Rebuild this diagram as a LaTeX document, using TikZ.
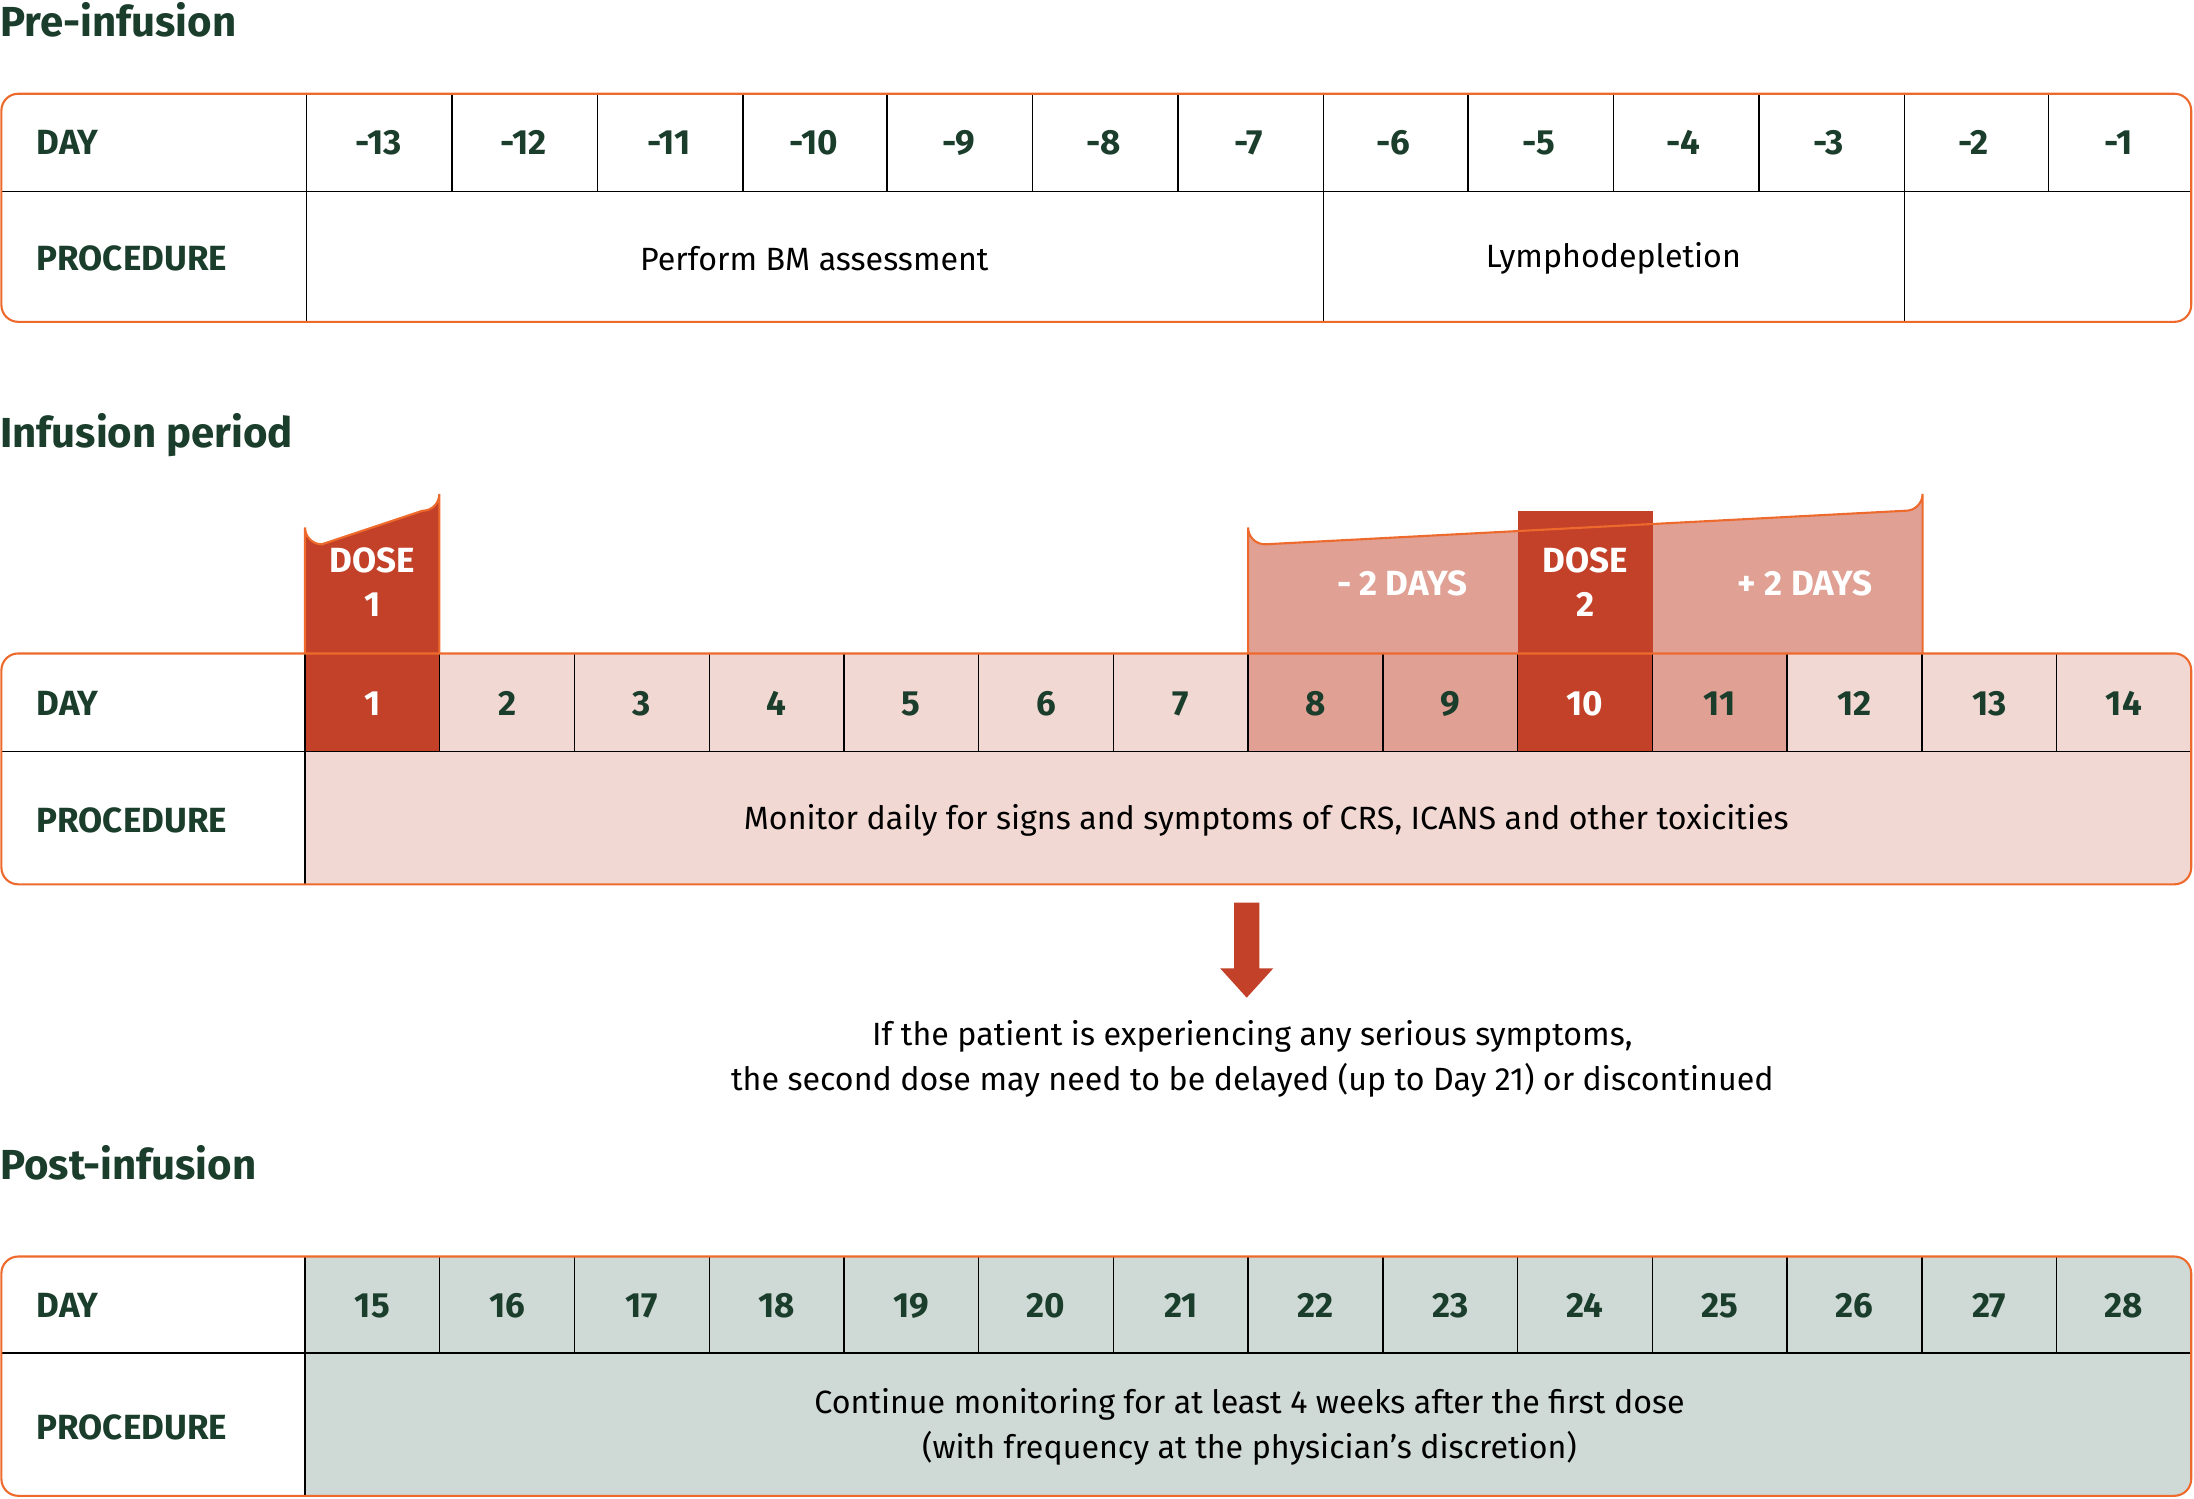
\documentclass[tikz,border=0pt]{standalone}
\usepackage{fontspec}
\setmainfont{Fira Sans}
\usetikzlibrary{calc}
\definecolor{dg}{HTML}{1B3D2C}
\definecolor{ob}{HTML}{EE6A2C}
\definecolor{rd}{HTML}{C24128}
\definecolor{lp}{HTML}{F2D8D3}
\definecolor{mp}{HTML}{E0A094}
\definecolor{gg}{HTML}{CFD9D6}
\tikzset{
 head/.style={anchor=west,text=dg,font=\fontsize{30}{34}\selectfont\bfseries,inner sep=0},
 lab/.style={text=dg,font=\fontsize{25}{30}\selectfont\bfseries,inner sep=0},
 body/.style={text=black,font=\fontsize{23}{32}\selectfont,inner sep=0,align=center},
 wlab/.style={text=white,font=\fontsize{25}{32}\selectfont\bfseries,inner sep=0,align=center},
 frame/.style={draw=ob,line width=1.5pt,rounded corners=12pt},
 grid/.style={draw=black,line width=1pt},
}
\begin{document}
\begin{tikzpicture}[x=1pt,y=-1pt]
\useasboundingbox (0,0) rectangle (1568,1071);
% ---------- Pre-infusion
\node[head] (h1) at (0,14) {Pre-infusion};
\begin{scope}
\clip[rounded corners=12pt] (1,67) rectangle (1566,230);
\foreach \x in {323,427,531,634,738,842,946,1049,1153,1257,1361,1464} \draw[grid] (\x,67) -- (\x,137);
\draw[grid] (219,67) -- (219,230);
\draw[grid] (1,137) -- (1566,137);
\draw[grid] (946,137) -- (946,230);
\draw[grid] (1361,137) -- (1361,230);
\end{scope}
\draw[frame] (1,67) rectangle (1566,230);
\node[lab,anchor=west] (d1) at (26,102) {DAY};
\node[lab,anchor=west] (p1) at (26,185) {PROCEDURE};
\foreach \i/\t in {0/-13,1/-12,2/-11,3/-10,4/-9,5/-8,6/-7,7/-6,8/-5,9/-4,10/-3,11/-2,12/-1}
  \node[lab] (a\i) at ({219+103.6*(\i+0.5)},102) {\t};
\node[body] (pa) at (582,185) {Perform BM assessment};
\node[body] (pb) at (1153,185) {Lymphodepletion};
% ---------- Infusion
\node[head] (h2) at (0,311) {Infusion period};
\fill[rd] (218,467) -- (218,377) arc[start angle=180,end angle=90,radius=12] -- (302,365) arc[start angle=90,end angle=0,radius=12] -- (314,467) -- cycle;
\draw[ob,line width=1.5pt] (218,467) -- (218,377) arc[start angle=180,end angle=90,radius=12] -- (302,365) arc[start angle=90,end angle=0,radius=12] -- (314,467);
\fill[mp] (892,467) -- (892,377) arc[start angle=180,end angle=90,radius=12] -- (1362,365) arc[start angle=90,end angle=0,radius=12] -- (1374,467) -- cycle;
\fill[rd] (1085,365) rectangle (1181,467);
\draw[ob,line width=1.5pt] (892,467) -- (892,377) arc[start angle=180,end angle=90,radius=12] -- (1362,365) arc[start angle=90,end angle=0,radius=12] -- (1374,467);
\node[wlab] (ds1) at (266,416) {DOSE\\1};
\node[wlab] (ds2) at (1133,416) {DOSE\\2};
\node[wlab] (m2) at (1002,417) {- 2 DAYS};
\node[wlab] (p2) at (1290,417) {+ 2 DAYS};
\begin{scope}
\clip[rounded corners=12pt] (1,467) rectangle (1566,632);
\fill[lp] (218,467) rectangle (1566,632);
\fill[rd] (218,467) rectangle (314.3,537);
\fill[mp] (892.1,467) rectangle (1084.7,537);
\fill[rd] (1084.7,467) rectangle (1181,537);
\fill[mp] (1181,467) rectangle (1277.4,537);
\foreach \i in {1,...,13} \draw[grid] ({218+96.29*\i},467) -- ({218+96.29*\i},537);
\draw[grid] (218,467) -- (218,632);
\draw[grid] (1,537) -- (1566,537);
\end{scope}
\draw[frame] (1,467) rectangle (1566,632);
\node[lab,anchor=west] (d2) at (26,503) {DAY};
\node[lab,anchor=west] (pp2) at (26,586) {PROCEDURE};
\foreach \i in {1,...,14}{
  \ifnum\i=1 \node[wlab] (b\i) at ({218+96.29*(\i-0.5)},503) {\i};
  \else\ifnum\i=10 \node[wlab] (b\i) at ({218+96.29*(\i-0.5)},503) {\i};
  \else \node[lab] (b\i) at ({218+96.29*(\i-0.5)},503) {\i};\fi\fi}
\node[body] (mon) at (905,586) {Monitor daily for signs and symptoms of CRS, ICANS and other toxicities};
\coordinate (ar1) at (891,645);
\fill[rd] (882,645) -- (900,645) -- (900,692) -- (910,692) -- (891,713) -- (872,692) -- (882,692) -- cycle;
\node[body] (note) at (895,757) {If the patient is experiencing any serious symptoms,\\the second dose may need to be delayed (up to Day 21) or discontinued};
% ---------- Post
\node[head] (h3) at (0,831) {Post-infusion};
\begin{scope}
\clip[rounded corners=12pt] (1,898) rectangle (1566,1069);
\fill[gg] (218,898) rectangle (1566,1069);
\foreach \i in {1,...,13} \draw[grid] ({218+96.29*\i},898) -- ({218+96.29*\i},967);
\draw[grid] (218,898) -- (218,1069);
\draw[grid] (1,967) -- (1566,967);
\end{scope}
\draw[frame] (1,898) rectangle (1566,1069);
\node[lab,anchor=west] (d3) at (26,933) {DAY};
\node[lab,anchor=west] (p3) at (26,1020) {PROCEDURE};
\foreach \i in {1,...,14}{
  \pgfmathtruncatemacro\n{\i+14}
  \node[lab] (c\i) at ({218+96.29*(\i-0.5)},933) {\n};}
\node[body] (cont) at (893,1020) {Continue monitoring for at least 4 weeks after the first dose\\(with frequency at the physician’s discretion)};
\end{tikzpicture}
\end{document}
